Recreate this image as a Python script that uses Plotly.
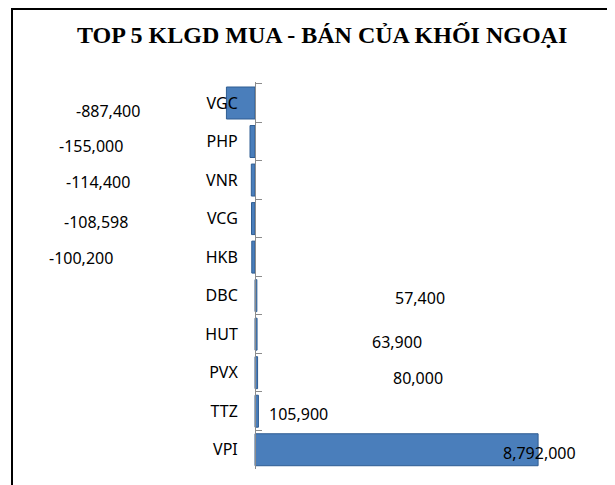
import plotly.graph_objects as go

categories = ["VGC", "PHP", "VNR", "VCG", "HKB", "DBC", "HUT", "PVX", "TTZ", "VPI"]
values = [-887400, -155000, -114400, -108598, -100200, 57400, 63900, 80000, 105900, 8792000]
# label anchor positions (data units) as placed in the original chart
label_x = [-4.58e6, -5.08e6, -4.89e6, -4.94e6, -5.39e6, 5.12e6, 4.41e6, 5.06e6, 1.34e6, 8.82e6]
label_dy = [8, 4, 2, 3, 1, 2, 8, 5, 3, 3]

W, H = 615, 485
OFF = 8  # page body margin offset
L, R, T, B = 12, 15, 82 - OFF, 485 - (469 - OFF)
pw = W - L - R
ph = H - T - B
zero_px = 255 - OFF
px_per_unit = 32.2e-6
xmin = -(zero_px - L) / px_per_unit
xmax = (W - R - zero_px) / px_per_unit

fig = go.Figure()
fig.add_trace(go.Bar(
    x=values, y=categories, orientation="h",
    marker=dict(color="#4A7EBB", line=dict(color="#2F5D92", width=1)),
    hoverinfo="x+y",
))

for c, v, lx, dy in zip(categories, values, label_x, label_dy):
    fig.add_annotation(x=lx, y=c, xref="x", yref="y", text=f"{v:,}",
                       showarrow=False, yshift=-dy,
                       font=dict(family="Noto Sans", size=16, color="#000000"))

fig.add_annotation(x=(322 - OFF - L) / pw, y=1 + (T - (35 - OFF)) / ph, xref="paper", yref="paper",
                   xanchor="center", yanchor="middle",
                   text="<b>TOP 5 KLGD MUA - BÁN CỦA KHỐI NGOẠI</b>", showarrow=False,
                   font=dict(family="Liberation Serif", size=24, color="#000000"))

# chart frame (left and top borders)
fx = (12 - OFF - L) / pw
fy = 1 + (T - (8 - OFF) - 1) / ph
fig.add_shape(type="path", xref="paper", yref="paper",
              path=f"M {fx} -0.2 L {fx} {fy} L 1.2 {fy}",
              line=dict(color="#000000", width=2))

fig.update_layout(
    width=W, height=H,
    margin=dict(l=L, r=R, t=T, b=B),
    paper_bgcolor="white", plot_bgcolor="white",
    showlegend=False, bargap=0.17,
    xaxis=dict(range=[xmin, xmax], visible=False, showgrid=False, zeroline=False),
    yaxis=dict(type="category", categoryorder="array", categoryarray=categories,
               autorange="reversed", anchor="free", position=(zero_px - L) / pw,
               showline=True, linecolor="#8C8C8C", linewidth=1,
               ticks="inside", tickson="boundaries", ticklen=6, tickcolor="#8C8C8C",
               ticklabelstandoff=14, showgrid=False, zeroline=False,
               tickfont=dict(family="Noto Sans", size=16, color="#000000")),
)

fig.write_html("out.html")
